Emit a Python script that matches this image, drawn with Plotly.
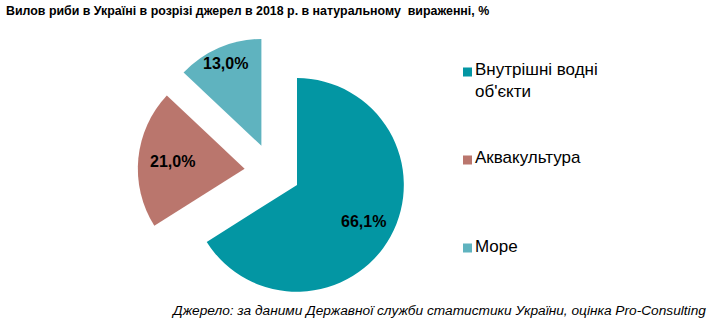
import math
import plotly.graph_objects as go

categories = ["Внутрішні водні об'єкти", "Аквакультура", "Море"]
legend_lines = ["Внутрішні водні<br>об'єкти", "Аквакультура", "Море"]
shares = [66.1, 21.0, 13.0]
colors = ["#0396A3", "#BA766D", "#5FB3BF"]
label_radius = [0.71, 0.68, 0.84]  # radial position of value labels (fraction of radius)

title_text = "Вилов риби в Україні в розрізі джерел в 2018 р. в натуральному  вираженні, %"
source_text = "Джерело: за даними Державної служби статистики України, оцінка Pro-Consulting"

W, H = 727, 324
PULL = 0.262
dom_x = [137.7 / W, 407.3 / W]
dom_y = [1 - 306.2 / H, 1 - 36.6 / H]

fig = go.Figure()
fig.add_trace(go.Pie(
    labels=categories,
    values=shares,
    sort=False,
    direction="clockwise",
    rotation=0,
    pull=[PULL] * len(shares),
    marker=dict(colors=colors, line=dict(width=0)),
    textinfo="none",
    showlegend=False,
    hoverinfo="skip",
    domain=dict(x=dom_x, y=dom_y),
))

# value labels placed along each slice bisector (derived from the shares)
cx = (dom_x[0] + dom_x[1]) / 2 * W
cy = (1 - (dom_y[0] + dom_y[1]) / 2) * H
r = min((dom_x[1] - dom_x[0]) * W, (dom_y[1] - dom_y[0]) * H) / (2 + 2 * PULL)
total = sum(shares)
annotations = []
cum = 0.0
for v, frac in zip(shares, label_radius):
    mid = (cum + v / 2) / total * 2 * math.pi
    cum += v
    px = cx + (PULL + frac) * r * math.sin(mid)
    py = cy - (PULL + frac) * r * math.cos(mid)
    annotations.append(dict(
        text=f"{v:.1f}%".replace(".", ","), xref="paper", yref="paper",
        x=px / W, y=1 - py / H, xanchor="center", yanchor="middle", showarrow=False,
        font=dict(family="Liberation Sans, Arial, sans-serif", size=16, color="#000000", weight="bold"),
    ))

# legend: colour squares from native legends, text beside them
legend_ids = ["legend", "legend2", "legend3"]
legend_tops = [54.5, 142.5, 230.5]
text_centers = [80, 158, 246]
for col, lid in zip(colors, legend_ids):
    fig.add_trace(go.Scatter(
        x=[None], y=[None], mode="markers", name="",
        marker=dict(symbol="square", size=9, color=col),
        legend=lid, showlegend=True, hoverinfo="skip",
    ))

legend_common = dict(
    xanchor="left", yanchor="top", bgcolor="rgba(0,0,0,0)", borderwidth=0,
    itemclick=False, itemdoubleclick=False,
    font=dict(family="Liberation Sans, Arial, sans-serif", size=17, color="#000000"),
)
layout_legends = {}
for lid, top in zip(legend_ids, legend_tops):
    layout_legends[lid] = dict(x=447.5 / W, y=1 - top / H, **legend_common)

for txt, yc in zip(legend_lines, text_centers):
    annotations.append(dict(
        text=txt, xref="paper", yref="paper", x=473 / W, y=1 - yc / H,
        xanchor="left", yanchor="middle", align="left", showarrow=False,
        font=dict(family="Liberation Sans, Arial, sans-serif", size=17, color="#000000"),
    ))

annotations.append(dict(
    text=source_text, xref="paper", yref="paper",
    x=708 / W, y=1 - 310 / H, xanchor="right", yanchor="middle", showarrow=False,
    font=dict(family="Liberation Sans, Arial, sans-serif", size=13.7, color="#000000", style="italic"),
))

fig.update_layout(
    width=W, height=H,
    margin=dict(l=0, r=0, t=0, b=0),
    paper_bgcolor="#FFFFFF", plot_bgcolor="#FFFFFF",
    separators=", ",
    xaxis=dict(visible=False), yaxis=dict(visible=False),
    title=dict(
        text=title_text, x=6 / W, xanchor="left", xref="paper",
        y=1 - 11 / H, yref="container", yanchor="middle",
        font=dict(family="Liberation Sans, Arial, sans-serif",
                  size=12.4, color="#000000", weight="bold"),
    ),
    annotations=annotations,
    **layout_legends,
)

fig.write_html("out.html")
